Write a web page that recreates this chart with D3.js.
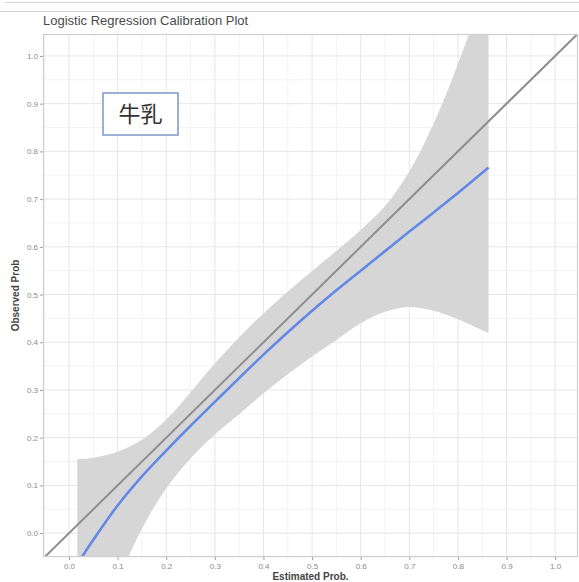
<!DOCTYPE html>
<html>
<head>
<meta charset="utf-8">
<script src="https://cdn.jsdelivr.net/npm/d3@7"></script>
<style>
  body { margin: 0; background: #fff; }
  svg { display: block; font-family: "Liberation Sans", Arial, sans-serif; }
</style>
</head>
<body>
<div id="container"></div>
<script>
// data
const estProb  = [0.017, 0.05, 0.1, 0.15, 0.2, 0.25, 0.3, 0.35, 0.4, 0.45, 0.5, 0.55, 0.6, 0.65, 0.7, 0.75, 0.8, 0.863];
const fitProb  = [-0.065, -0.014, 0.058, 0.119, 0.173, 0.225, 0.275, 0.325, 0.374, 0.421, 0.466, 0.509, 0.55, 0.591, 0.632, 0.672, 0.713, 0.766];
const upperCI  = [0.155, 0.158, 0.1705, 0.1955, 0.238, 0.2955, 0.3555, 0.4105, 0.4605, 0.5065, 0.5495, 0.5915, 0.6355, 0.6855, 0.758, 0.858, 0.983, 1.16];
const lowerCI  = [-0.3, -0.221, -0.101, 0.009, 0.094, 0.1565, 0.2065, 0.249, 0.293, 0.333, 0.37, 0.405, 0.44, 0.464, 0.474, 0.466, 0.448, 0.419];
const tickVals = [0, 0.1, 0.2, 0.3, 0.4, 0.5, 0.6, 0.7, 0.8, 0.9, 1.0];
const minorVals = [-0.05, 0.05, 0.15, 0.25, 0.35, 0.45, 0.55, 0.65, 0.75, 0.85, 0.95];
const title = 'Logistic Regression Calibration Plot';
const label = '牛乳';

const W = 579, H = 582;
const panel = { left: 43, right: 578, top: 34, bottom: 557 };

const svg = d3.select('#container')
  .append('svg')
  .attr('width', W)
  .attr('height', H);

// thin page lines at the top
svg.append('line').attr('x1', 5).attr('x2', W).attr('y1', 2.5).attr('y2', 2.5)
  .attr('stroke', '#d6d6d6').attr('stroke-width', 1);
svg.append('line').attr('x1', 0).attr('x2', W).attr('y1', 11.5).attr('y2', 11.5)
  .attr('stroke', '#d0d0d0').attr('stroke-width', 1);

// scales
const x = d3.scaleLinear().domain([-0.0535, 1.047]).range([panel.left, panel.right]);
const y = d3.scaleLinear().domain([-0.05, 1.046]).range([panel.bottom, panel.top]);

// grid
const grid = svg.append('g');
grid.selectAll('.minor-x').data(minorVals).enter().append('line')
  .attr('x1', d => x(d)).attr('x2', d => x(d))
  .attr('y1', panel.top).attr('y2', panel.bottom)
  .attr('stroke', '#f3f3f3').attr('stroke-width', 1);
grid.selectAll('.minor-y').data(minorVals).enter().append('line')
  .attr('y1', d => y(d)).attr('y2', d => y(d))
  .attr('x1', panel.left).attr('x2', panel.right)
  .attr('stroke', '#f3f3f3').attr('stroke-width', 1);
grid.selectAll('.major-x').data(tickVals).enter().append('line')
  .attr('x1', d => x(d)).attr('x2', d => x(d))
  .attr('y1', panel.top).attr('y2', panel.bottom)
  .attr('stroke', '#e6e6e6').attr('stroke-width', 1);
grid.selectAll('.major-y').data(tickVals).enter().append('line')
  .attr('y1', d => y(d)).attr('y2', d => y(d))
  .attr('x1', panel.left).attr('x2', panel.right)
  .attr('stroke', '#e6e6e6').attr('stroke-width', 1);

// clip to the panel
svg.append('clipPath').attr('id', 'clip')
  .append('rect')
  .attr('x', panel.left).attr('y', panel.top)
  .attr('width', panel.right - panel.left).attr('height', panel.bottom - panel.top);

const plot = svg.append('g').attr('clip-path', 'url(#clip)');

const rows = estProb.map((e, i) => ({ e, fit: fitProb[i], lo: lowerCI[i], hi: upperCI[i] }));

// confidence band
plot.append('path')
  .datum(rows)
  .attr('fill', '#d6d6d6')
  .attr('d', d3.area()
    .curve(d3.curveCatmullRom)
    .x(d => x(d.e))
    .y0(d => y(d.lo))
    .y1(d => y(d.hi)));

// reference line y = x
plot.append('line')
  .attr('x1', x(-0.1)).attr('y1', y(-0.1))
  .attr('x2', x(1.1)).attr('y2', y(1.1))
  .attr('stroke', '#8e8e8e')
  .attr('stroke-width', 2);

// fitted curve
plot.append('path')
  .datum(rows)
  .attr('fill', 'none')
  .attr('stroke', '#6388e6')
  .attr('stroke-width', 2.6)
  .attr('d', d3.line()
    .curve(d3.curveCatmullRom)
    .x(d => x(d.e))
    .y(d => y(d.fit)));

// panel border
svg.append('rect')
  .attr('x', panel.left + 0.5).attr('y', panel.top + 0.5)
  .attr('width', panel.right - panel.left - 1).attr('height', panel.bottom - panel.top - 1)
  .attr('fill', 'none')
  .attr('stroke', '#cfcfcf')
  .attr('stroke-width', 1.2);

// axes
const xAxis = d3.axisBottom(x).tickValues(tickVals).tickSize(3).tickPadding(3).tickFormat(d3.format('.1f'));
const yAxis = d3.axisLeft(y).tickValues(tickVals).tickSize(3).tickPadding(2).tickFormat(d3.format('.1f'));

const gx = svg.append('g')
  .attr('transform', `translate(0, ${panel.bottom})`)
  .call(xAxis);
const gy = svg.append('g')
  .attr('transform', `translate(${panel.left}, 0)`)
  .call(yAxis);

[gx, gy].forEach(g => {
  g.select('.domain').remove();
  g.selectAll('.tick line').attr('stroke', '#a0a0a0');
  g.selectAll('.tick text')
    .attr('fill', '#8a8a8a')
    .style('font-size', '8px')
    .style('font-family', '"Liberation Sans", Arial, sans-serif');
});

// title
svg.append('text')
  .attr('x', 43)
  .attr('y', 25)
  .attr('fill', '#4a4a4a')
  .style('font-size', '13px')
  .text(title);

// axis titles
svg.append('text')
  .attr('x', (panel.left + panel.right) / 2)
  .attr('y', 580)
  .attr('text-anchor', 'middle')
  .attr('fill', '#444')
  .style('font-size', '10px')
  .style('font-weight', 'bold')
  .text('Estimated Prob.');

svg.append('text')
  .attr('transform', `translate(19, ${(panel.top + panel.bottom) / 2}) rotate(-90)`)
  .attr('text-anchor', 'middle')
  .attr('fill', '#444')
  .style('font-size', '10px')
  .style('font-weight', 'bold')
  .text('Observed Prob');

// label box
const box = svg.append('g').attr('transform', 'translate(103, 93)');
box.append('rect')
  .attr('width', 75).attr('height', 42)
  .attr('fill', '#fff')
  .attr('stroke', '#7d97cb')
  .attr('stroke-width', 1.5);
box.append('text')
  .attr('x', 37.5).attr('y', 29)
  .attr('text-anchor', 'middle')
  .attr('fill', '#333')
  .style('font-family', '"Noto Sans CJK JP", "Noto Sans CJK SC", sans-serif')
  .style('font-size', '22px')
  .text(label);
</script>
</body>
</html>
